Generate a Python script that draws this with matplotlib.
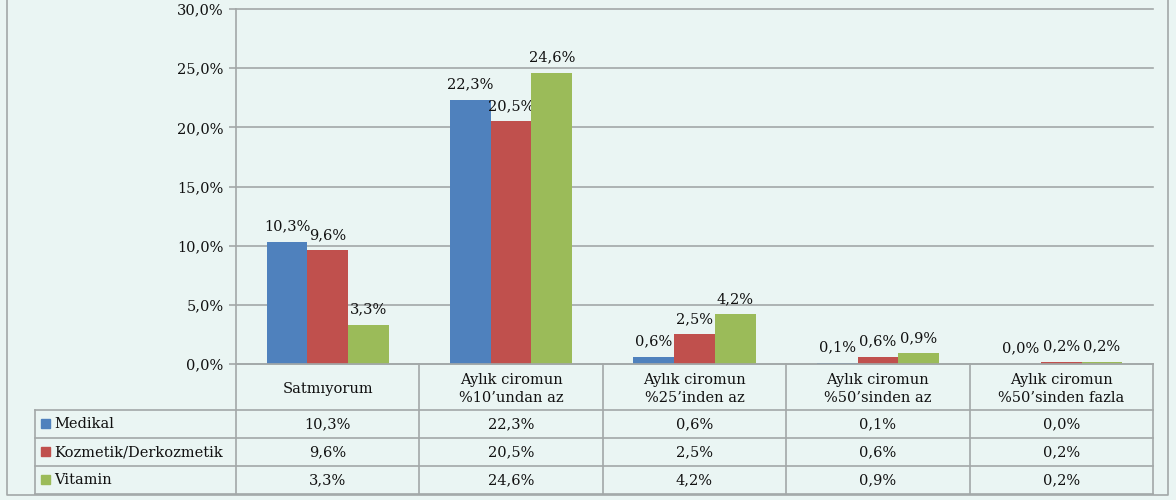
import matplotlib.pyplot as plt
import numpy as np

# data (percent)
categories = ['Satmıyorum', 'Aylık ciromun\n%10’undan az', 'Aylık ciromun\n%25’inden az',
              'Aylık ciromun\n%50’sinden az', 'Aylık ciromun\n%50’sinden fazla']
series_names = ['Medikal', 'Kozmetik/Derkozmetik', 'Vitamin']
medikal = [10.3, 22.3, 0.6, 0.1, 0.0]
kozmetik = [9.6, 20.5, 2.5, 0.6, 0.2]
vitamin = [3.3, 24.6, 4.2, 0.9, 0.2]
yticks = [0, 5, 10, 15, 20, 25, 30]

colors = ['#4F81BD', '#C0504D', '#9BBB59']
bg = '#EAF5F3'
grid_c = '#A3A8A8'
font = 'DejaVu Serif'
fs = 10.5

def pct(v):
    return f'{v:.1f}%'.replace('.', ',')

W, H = 1176, 500
fig = plt.figure(figsize=(W / 100, H / 100), dpi=100, facecolor=bg)

# pixel layout of the plot area
px_left, px_right, px_top, px_bottom = 236, 1153, 9, 364
ax = fig.add_axes([px_left / W, 1 - px_bottom / H, (px_right - px_left) / W, (px_bottom - px_top) / H])
ax.set_facecolor(bg)
ax.set_xlim(-0.5, len(categories) - 0.5)
ax.set_ylim(0, 30)

x = np.arange(len(categories))
bw = 0.222
for i, (vals, c) in enumerate(zip([medikal, kozmetik, vitamin], colors)):
    pos = x + (i - 1) * bw
    ax.bar(pos, vals, width=bw, color=c, zorder=3)
    for p, v in zip(pos, vals):
        ax.annotate(pct(v), (p, v), xytext=(0, 6), textcoords='offset points',
                    ha='center', va='bottom', fontsize=fs, family=font, color='#111111')

ax.set_yticks(yticks)
ax.set_yticklabels([pct(t) for t in yticks], fontsize=fs, family=font, color='#111111')
ax.yaxis.grid(True, color=grid_c, linewidth=1.2, zorder=0)
for gl in ax.get_ygridlines():
    gl.set_clip_on(False)
ax.tick_params(axis='y', length=5, color=grid_c, width=1.2, pad=4)
ax.set_xticks([])
for s in ['top', 'right', 'bottom']:
    ax.spines[s].set_visible(False)
ax.spines['left'].set_color(grid_c)
ax.spines['left'].set_linewidth(1.2)

# overlay axes in pixel coordinates for the data table and the outer border
ov = fig.add_axes([0, 0, 1, 1])
ov.set_xlim(0, W)
ov.set_ylim(H, 0)
ov.axis('off')
ov.patch.set_alpha(0)

cw = (px_right - px_left) / len(categories)
col_x = [px_left + i * cw for i in range(len(categories) + 1)]
row_y = [px_bottom, 410, 438, 466, 494]
tab_left = 35
lk = dict(color=grid_c, linewidth=1.2)

# horizontal table lines
ov.plot([px_left, px_right], [row_y[0], row_y[0]], **lk)
for y in row_y[1:]:
    ov.plot([tab_left, px_right], [y, y], **lk)
# vertical table lines
for cx in col_x:
    ov.plot([cx, cx], [row_y[0], row_y[-1]], **lk)
ov.plot([tab_left, tab_left], [row_y[1], row_y[-1]], **lk)

# header row: category names
for i, cat in enumerate(categories):
    ov.text((col_x[i] + col_x[i + 1]) / 2, (row_y[0] + row_y[1]) / 2 + 2, cat,
            ha='center', va='center', fontsize=fs, family=font, color='#111111',
            linespacing=1.35)

# series rows
for r, (name, vals, c) in enumerate(zip(series_names, [medikal, kozmetik, vitamin], colors)):
    yc = (row_y[r + 1] + row_y[r + 2]) / 2
    ov.add_patch(plt.Rectangle((41, yc - 5), 9, 9, color=c))
    ov.text(54, yc, name, ha='left', va='center', fontsize=fs, family=font, color='#111111')
    for i, v in enumerate(vals):
        ov.text((col_x[i] + col_x[i + 1]) / 2, yc, pct(v), ha='center', va='center',
                fontsize=fs, family=font, color='#111111')

# outer chart border
ov.plot([7, 7, 1168, 1168], [0, 495, 495, 0], **lk)

fig.savefig('out.png', dpi=100, facecolor=bg)
